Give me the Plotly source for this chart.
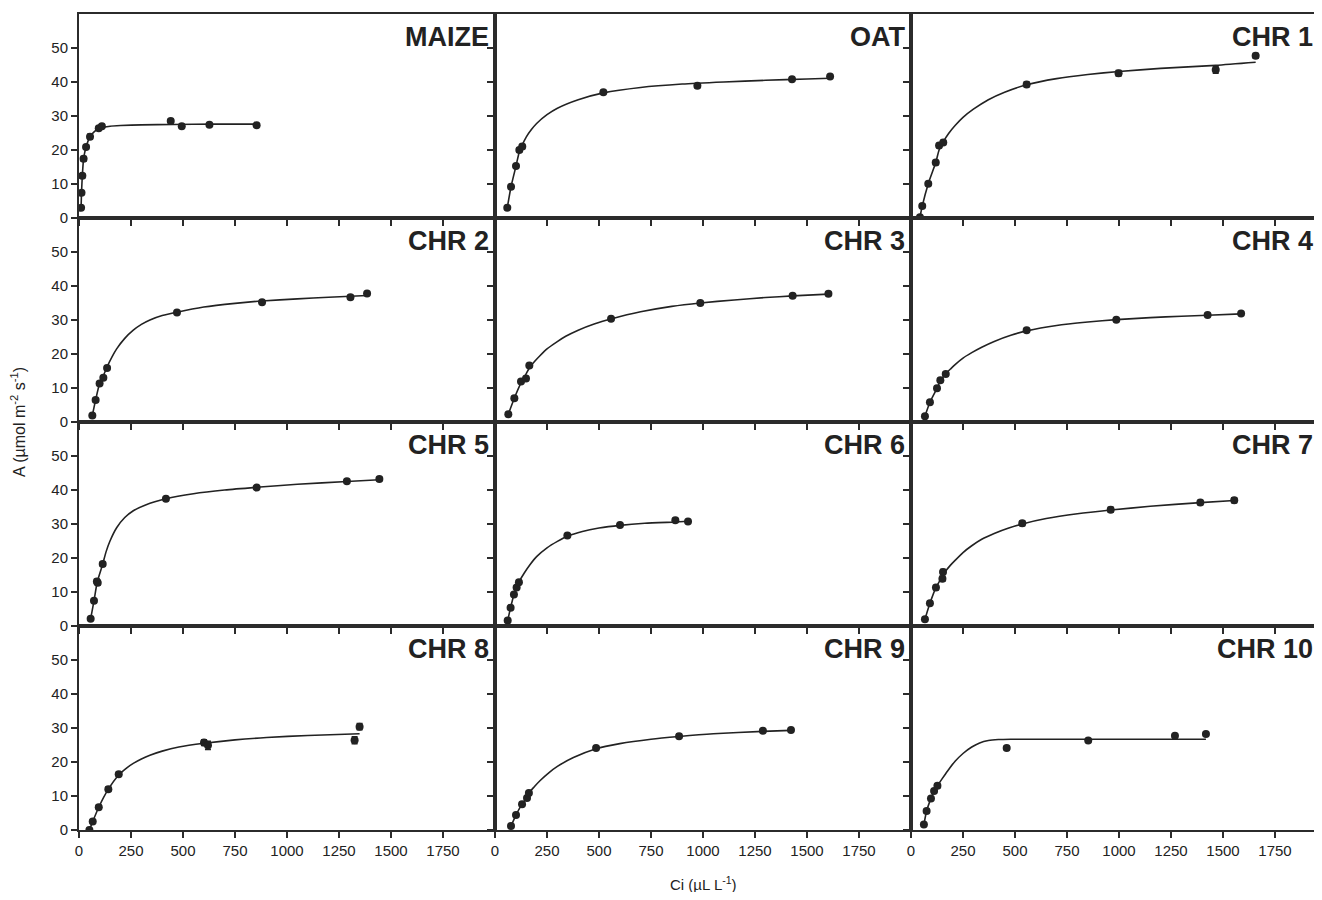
import plotly.graph_objects as go

# ---------------- data ----------------
panel_names = ["MAIZE", "OAT", "CHR 1", "CHR 2", "CHR 3", "CHR 4",
               "CHR 5", "CHR 6", "CHR 7", "CHR 8", "CHR 9", "CHR 10"]

maize_ci = [10, 12, 16, 22, 34, 53, 95, 110, 441, 494, 627, 854]
maize_a = [3.0, 7.4, 12.4, 17.4, 20.9, 23.9, 26.4, 27.0, 28.5, 27.0, 27.4, 27.3]
maize_err = [0.4, 0.5, 0.6, 0.7, 0.6, 0.7, 0.5, 0.5, 0.5, 0.4, 0.4, 0.4]
maize_fit_ci = [10, 12, 16, 22, 34, 53, 75, 100, 150, 200, 300, 450, 650, 854]
maize_fit_a = [3.0, 7.4, 12.4, 17.4, 20.9, 23.9, 25.5, 26.4, 27.0, 27.2, 27.4, 27.5, 27.6, 27.6]

oat_ci = [59, 77, 101, 117, 131, 521, 973, 1428, 1611]
oat_a = [3.0, 9.2, 15.3, 20.0, 21.0, 37.0, 38.9, 40.8, 41.6]
oat_err = [0.4, 0.5, 0.5, 0.6, 0.6, 0.5, 0.6, 0.5, 0.5]
oat_fit_ci = [59, 77, 101, 117, 131, 150, 175, 200, 250, 300, 400, 521, 700, 900, 1100, 1300, 1500, 1611]
oat_fit_a = [3.0, 9.2, 15.3, 19.5, 21.5, 23.8, 26.0, 27.8, 30.4, 32.3, 34.8, 36.8, 38.4, 39.4, 40.0, 40.5, 40.9, 41.1]

chr1_ci = [43, 54, 83, 119, 135, 155, 556, 998, 1465, 1657]
chr1_a = [0.2, 3.5, 10.1, 16.3, 21.3, 22.2, 39.3, 42.6, 43.6, 47.7]
chr1_err = [0.3, 0.5, 0.5, 0.6, 0.6, 0.6, 0.7, 0.8, 1.0, 0.7]
chr1_fit_ci = [43, 54, 83, 119, 135, 155, 180, 212, 250, 300, 372, 450, 556, 700, 850, 1000, 1200, 1465, 1657]
chr1_fit_a = [0.2, 3.5, 10.1, 16.3, 20.0, 22.4, 24.8, 27.2, 29.6, 32.0, 34.8, 37.0, 39.2, 41.0, 42.2, 43.1, 44.0, 44.9, 45.8]

chr2_ci = [64, 80, 99, 117, 135, 471, 880, 1305, 1385]
chr2_a = [1.9, 6.5, 11.3, 13.0, 15.9, 32.2, 35.2, 36.7, 37.8]
chr2_err = [0.4, 0.5, 0.5, 0.5, 0.5, 0.5, 0.5, 0.6, 0.5]
chr2_fit_ci = [64, 80, 99, 117, 135, 160, 181, 220, 261, 300, 341, 400, 471, 600, 750, 880, 1050, 1200, 1385]
chr2_fit_a = [1.9, 6.5, 11.3, 13.6, 16.2, 19.3, 21.5, 24.6, 27.0, 28.7, 30.0, 31.3, 32.3, 33.8, 34.9, 35.6, 36.2, 36.7, 37.2]

chr3_ci = [64, 93, 125, 149, 165, 558, 987, 1431, 1603]
chr3_a = [2.3, 7.0, 11.9, 12.8, 16.6, 30.4, 35.0, 37.1, 37.7]
chr3_err = [0.4, 0.5, 0.5, 0.6, 0.5, 0.5, 0.5, 0.5, 0.5]
chr3_fit_ci = [64, 93, 125, 149, 165, 190, 216, 250, 296, 340, 400, 480, 558, 700, 850, 987, 1150, 1300, 1431, 1603]
chr3_fit_a = [2.3, 7.0, 11.5, 14.1, 15.9, 17.8, 19.5, 21.5, 23.5, 25.2, 27.0, 28.9, 30.3, 32.4, 34.0, 35.0, 35.9, 36.6, 37.1, 37.6]

chr4_ci = [67, 91, 125, 141, 167, 556, 987, 1426, 1587]
chr4_a = [1.7, 5.8, 9.9, 12.3, 14.1, 27.0, 30.1, 31.5, 31.9]
chr4_err = [0.4, 0.4, 0.5, 0.5, 0.5, 0.5, 0.5, 0.4, 0.4]
chr4_fit_ci = [67, 91, 125, 141, 167, 190, 212, 250, 292, 340, 400, 480, 556, 700, 850, 987, 1150, 1300, 1426, 1587]
chr4_fit_a = [1.7, 5.8, 9.9, 12.0, 14.2, 15.6, 16.9, 18.8, 20.4, 22.0, 23.7, 25.5, 26.8, 28.4, 29.4, 30.1, 30.7, 31.1, 31.4, 31.8]

chr5_ci = [56, 72, 86, 90, 114, 418, 854, 1288, 1444]
chr5_a = [2.1, 7.4, 13.1, 12.7, 18.2, 37.4, 40.7, 42.6, 43.2]
chr5_err = [0.4, 0.5, 0.6, 0.6, 0.6, 0.5, 0.5, 0.5, 0.5]
chr5_fit_ci = [56, 72, 88, 114, 130, 149, 181, 220, 261, 320, 418, 550, 700, 854, 1050, 1288, 1444]
chr5_fit_a = [2.1, 7.4, 13.0, 18.2, 21.8, 25.0, 28.9, 31.9, 33.9, 35.6, 37.4, 38.9, 40.0, 40.8, 41.7, 42.5, 43.0]

chr6_ci = [61, 75, 91, 104, 115, 348, 601, 867, 928]
chr6_a = [1.6, 5.4, 9.3, 11.3, 12.9, 26.6, 29.7, 31.1, 30.7]
chr6_err = [0.4, 0.4, 0.5, 0.5, 0.5, 0.5, 0.5, 0.5, 0.5]
chr6_fit_ci = [61, 75, 91, 104, 115, 140, 168, 200, 250, 300, 348, 420, 500, 601, 720, 867, 928]
chr6_fit_a = [1.6, 5.4, 9.3, 11.3, 12.9, 15.5, 18.0, 20.4, 23.0, 24.9, 26.4, 27.8, 28.8, 29.6, 30.2, 30.6, 30.8]

chr7_ci = [67, 91, 120, 151, 154, 535, 960, 1391, 1554]
chr7_a = [2.0, 6.7, 11.3, 13.9, 15.9, 30.2, 34.2, 36.3, 37.0]
chr7_err = [0.5, 0.6, 0.6, 0.7, 0.7, 0.7, 0.7, 0.6, 0.7]
chr7_fit_ci = [67, 91, 120, 151, 165, 190, 212, 250, 292, 340, 400, 470, 535, 650, 800, 960, 1150, 1391, 1554]
chr7_fit_a = [2.0, 6.7, 11.3, 14.6, 16.0, 17.9, 19.3, 21.6, 23.6, 25.5, 27.2, 28.8, 30.0, 31.6, 33.0, 34.1, 35.2, 36.3, 36.9]

chr8_ci = [50, 66, 95, 141, 191, 601, 620, 1325, 1349]
chr8_a = [0.0, 2.5, 6.7, 12.0, 16.4, 25.7, 24.9, 26.4, 30.4]
chr8_err = [0.4, 0.5, 0.6, 0.6, 0.6, 0.8, 1.2, 1.0, 0.9]
chr8_fit_ci = [50, 66, 95, 141, 191, 230, 261, 300, 341, 400, 480, 601, 750, 902, 1100, 1349]
chr8_fit_a = [0.0, 2.5, 6.7, 12.0, 16.2, 18.3, 19.6, 20.9, 22.0, 23.2, 24.4, 25.5, 26.5, 27.2, 27.8, 28.3]

chr9_ci = [77, 101, 130, 154, 163, 486, 885, 1288, 1423]
chr9_a = [1.2, 4.4, 7.6, 9.4, 10.9, 24.1, 27.6, 29.2, 29.4]
chr9_err = [0.4, 0.4, 0.5, 0.5, 0.5, 0.5, 0.6, 0.5, 0.6]
chr9_fit_ci = [77, 101, 130, 154, 163, 190, 216, 260, 300, 377, 486, 600, 750, 885, 1050, 1288, 1423]
chr9_fit_a = [1.2, 4.4, 7.6, 9.5, 10.9, 12.8, 14.5, 16.9, 18.7, 21.3, 23.9, 25.4, 26.7, 27.5, 28.3, 29.0, 29.3]

chr10_ci = [62, 75, 96, 111, 127, 460, 852, 1269, 1418]
chr10_a = [1.6, 5.6, 9.3, 11.5, 13.0, 24.1, 26.3, 27.7, 28.2]
chr10_err = [0.4, 0.5, 0.5, 0.6, 0.6, 0.5, 0.5, 0.5, 0.5]
chr10_fit_ci = [62, 75, 96, 111, 127, 150, 175, 212, 250, 292, 330, 372, 420, 480, 600, 900, 1418]
chr10_fit_a = [1.6, 5.6, 9.3, 11.5, 13.0, 15.1, 17.3, 20.2, 22.5, 24.4, 25.6, 26.3, 26.6, 26.7, 26.7, 26.7, 26.7]

x_tickvals = [0, 250, 500, 750, 1000, 1250, 1500, 1750]
y_tickvals = [0, 10, 20, 30, 40, 50]
y_title = "A (µmol m<sup>-2</sup> s<sup>-1</sup>)"
x_title = "Ci (µL L<sup>-1</sup>)"

panels = [
    (maize_ci, maize_a, maize_err, maize_fit_ci, maize_fit_a),
    (oat_ci, oat_a, oat_err, oat_fit_ci, oat_fit_a),
    (chr1_ci, chr1_a, chr1_err, chr1_fit_ci, chr1_fit_a),
    (chr2_ci, chr2_a, chr2_err, chr2_fit_ci, chr2_fit_a),
    (chr3_ci, chr3_a, chr3_err, chr3_fit_ci, chr3_fit_a),
    (chr4_ci, chr4_a, chr4_err, chr4_fit_ci, chr4_fit_a),
    (chr5_ci, chr5_a, chr5_err, chr5_fit_ci, chr5_fit_a),
    (chr6_ci, chr6_a, chr6_err, chr6_fit_ci, chr6_fit_a),
    (chr7_ci, chr7_a, chr7_err, chr7_fit_ci, chr7_fit_a),
    (chr8_ci, chr8_a, chr8_err, chr8_fit_ci, chr8_fit_a),
    (chr9_ci, chr9_a, chr9_err, chr9_fit_ci, chr9_fit_a),
    (chr10_ci, chr10_a, chr10_err, chr10_fit_ci, chr10_fit_a),
]

# ---------------- layout geometry ----------------
# the page body has an 8px default margin on every side, so the figure is
# made smaller to fit the visible page and its margins are shifted by 8px
# to land the panels where the reference has them
W, H = 1306, 884
ML, MT, MR = 71, 6, 0
PW = W - ML - MR          # 1235
PH = 816
MB = H - MT - PH          # 62
PANEL_W = 416
PANEL_H = 204
X_MAX = 2000
INK = "#222222"
AXC = "#2b2b2b"
FONT = "Liberation Sans, Arial, sans-serif"

fig = go.Figure()
annotations = []

for i, (ci, a, err, fci, fa) in enumerate(panels):
    r, c = divmod(i, 3)
    n = i + 1
    xa = "xaxis" if n == 1 else f"xaxis{n}"
    ya = "yaxis" if n == 1 else f"yaxis{n}"
    xref = "x" if n == 1 else f"x{n}"
    yref = "y" if n == 1 else f"y{n}"

    x0 = c * PANEL_W
    x1 = min((c + 1) * PANEL_W, PW)
    y1 = PH - r * PANEL_H
    y0 = y1 - PANEL_H
    xmax = X_MAX * (x1 - x0) / PANEL_W
    cut_right = x1 < (c + 1) * PANEL_W   # last column runs off the page edge

    fig.add_trace(go.Scatter(
        x=fci, y=fa, mode="lines", xaxis=xref, yaxis=yref,
        line=dict(color=INK, width=1.6, shape="spline", smoothing=0.6),
        hoverinfo="skip", showlegend=False))
    fig.add_trace(go.Scatter(
        x=ci, y=a, mode="markers", xaxis=xref, yaxis=yref,
        marker=dict(color=INK, size=8, symbol="circle"),
        error_y=dict(type="data", array=err, color=INK, thickness=1.6, width=3),
        showlegend=False, name=panel_names[i]))

    fig.layout[xa] = dict(
        domain=[x0 / PW, x1 / PW], range=[0, xmax], anchor=yref,
        showline=True, linecolor=AXC, linewidth=2, mirror=True,
        ticks="outside", ticklen=6, tickwidth=1.5, tickcolor=AXC,
        tickvals=x_tickvals, showticklabels=(r == 3),
        tickfont=dict(family=FONT, size=15, color=INK),
        showgrid=False, zeroline=False, fixedrange=True)
    fig.layout[ya] = dict(
        domain=[y0 / PH, y1 / PH], range=[0, 60], anchor=xref,
        showline=True, linecolor=AXC, linewidth=2, mirror=(not cut_right),
        ticks="outside", ticklen=6, tickwidth=1.5, tickcolor=AXC,
        tickvals=y_tickvals, showticklabels=(c == 0),
        tickfont=dict(family=FONT, size=15, color=INK),
        showgrid=False, zeroline=False, fixedrange=True)

    label_x = min(PANEL_W - 4, (x1 - x0) + 1)
    annotations.append(dict(
        text=f"<b>{panel_names[i]}</b>", xref=f"{xref} domain", yref=f"{yref} domain",
        x=label_x / (x1 - x0), y=1, xanchor="right", yanchor="top",
        yshift=-6, showarrow=False,
        font=dict(family=FONT, size=27, color=INK)))

annotations.append(dict(
    text=y_title, xref="paper", yref="paper", x=-61 / PW, y=0.5,
    xanchor="center", yanchor="middle", textangle=-90, showarrow=False,
    font=dict(family=FONT, size=16, color=INK)))
annotations.append(dict(
    text=x_title, xref="paper", yref="paper", x=624 / PW, y=-53 / PH,
    xanchor="center", yanchor="middle", showarrow=False,
    font=dict(family=FONT, size=15, color=INK)))

fig.update_layout(
    width=W, height=H,
    margin=dict(l=ML, r=MR, t=MT, b=MB),
    paper_bgcolor="white", plot_bgcolor="white",
    annotations=annotations, showlegend=False)

fig.write_html("out.html")
